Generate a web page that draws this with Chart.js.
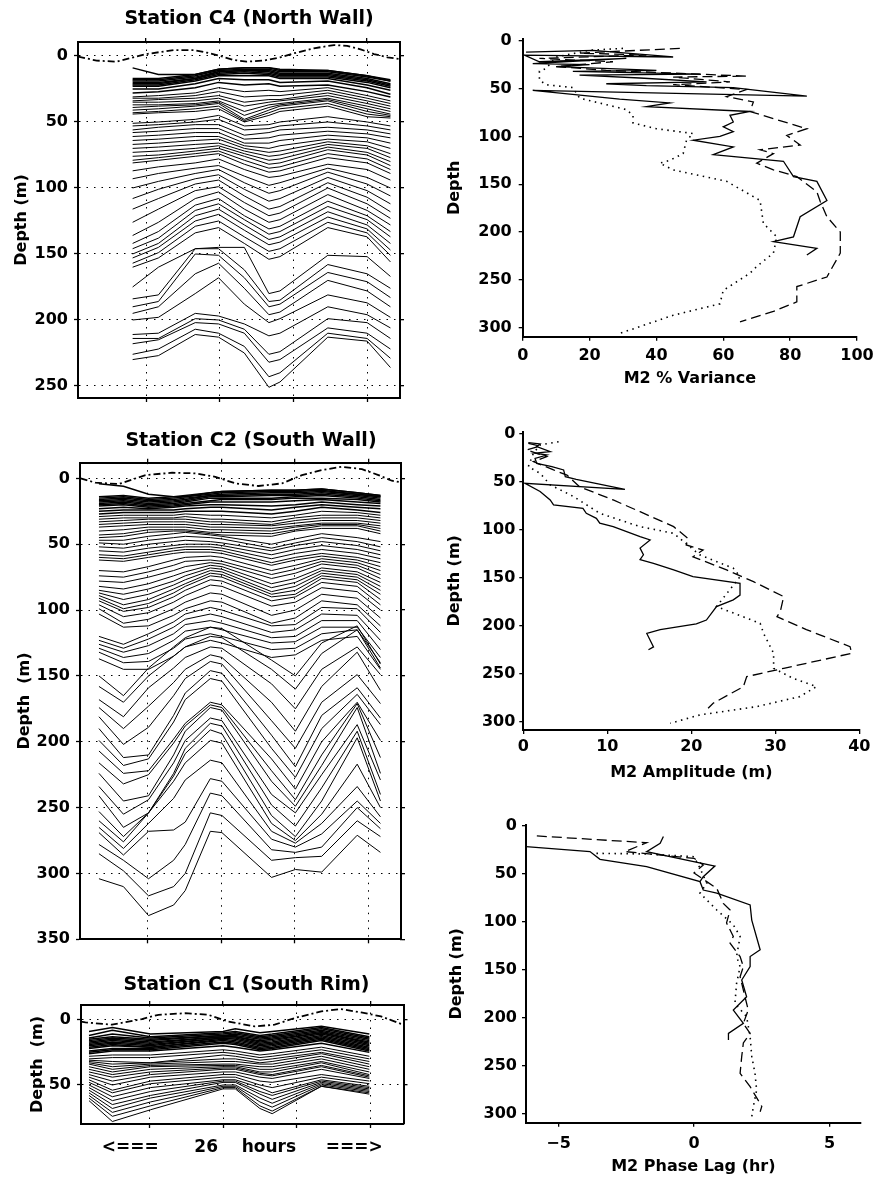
<!DOCTYPE html>
<html><head><meta charset="utf-8">
<script src="https://cdn.jsdelivr.net/npm/chart.js@4"></script>
<style>
html,body{margin:0;padding:0;background:#fff;}
#page{position:relative;width:876px;height:1177px;background:#fff;overflow:hidden;}
#page canvas{position:absolute;}
</style></head>
<body><div id="page"></div>
<script>
// ---------------- DATA ----------------
const hourTicks = [6, 12, 18, 24];
const c4DepthTicks = [0, 50, 100, 150, 200, 250];
const c2DepthTicks = [0, 50, 100, 150, 200, 250, 300, 350];
const c1DepthTicks = [0, 50];
const profileDepthTicks = [0, 50, 100, 150, 200, 250, 300];
const varianceTicks = [0, 20, 40, 60, 80, 100];
const amplitudeTicks = [0, 10, 20, 30, 40];
const phaseTicks = [-5, 0, 5];
const phaseTickText = ['\u22125', '0', '5'];

// Station C4: cast times (hours) and isopycnal depths (m)
const c4Hours = [4.9, 7.0, 10.0, 11.9, 14.0, 16.0, 16.9, 20.8, 24.0, 25.9];
const c4Surface = [
  [9, 14, 14, 10, 9, 9, 10, 11, 15, 19],
  [17, 17, 14, 10, 9, 9, 11, 11, 15, 18],
  [18, 18, 15, 11, 10, 10, 12, 12, 16, 19],
  [19, 19, 16, 12, 11, 11, 13, 13, 17, 21],
  [20, 20, 17, 12, 11, 12, 14, 14, 18, 22],
  [21, 21, 17, 13, 12, 13, 15, 15, 19, 23],
  [22, 22, 18, 14, 13, 14, 16, 16, 20, 24],
  [23, 23, 19, 15, 15, 15, 17, 17, 22, 26],
  [25, 25, 21, 17, 18, 18, 20, 19, 24, 29],
  [28, 27, 24, 20, 22, 21, 23, 22, 27, 31]
];
const c4Upper = [
  [31, 30, 28, 24, 27, 26, 27, 24, 30, 34],
  [32, 32, 30, 27, 31, 30, 30, 26, 32, 36],
  [34, 33, 32, 30, 35, 33, 33, 28, 34, 38],
  [35, 35, 34, 32, 38, 35, 34, 30, 36, 40],
  [37, 37, 36, 34, 42, 37, 36, 32, 38, 42],
  [39, 38, 37, 35, 45, 39, 37, 33, 40, 44],
  [41, 40, 38, 36, 48, 41, 38, 34, 42, 45],
  [43, 42, 40, 38, 49, 43, 40, 36, 44, 46],
  [44, 43, 42, 40, 50, 45, 42, 38, 46, 47]
];
const c4Middle = [
  [51, 50, 48, 45, 53, 52, 50, 46, 50, 53],
  [53, 52, 50, 48, 56, 55, 53, 50, 53, 56],
  [56, 54, 52, 52, 60, 58, 56, 54, 56, 59],
  [58, 57, 55, 55, 63, 62, 60, 57, 59, 62],
  [61, 60, 58, 58, 66, 66, 64, 60, 62, 66],
  [64, 63, 61, 61, 68, 70, 68, 63, 65, 70],
  [67, 66, 64, 63, 70, 73, 72, 65, 68, 74],
  [70, 69, 67, 66, 72, 76, 75, 67, 70, 77],
  [73, 72, 70, 68, 74, 79, 78, 69, 73, 80],
  [76, 75, 72, 70, 76, 82, 81, 71, 75, 83],
  [79, 77, 74, 72, 79, 85, 84, 74, 78, 86],
  [81, 79, 76, 74, 82, 88, 87, 77, 81, 89]
];
const c4Lower = [
  [87, 84, 81, 78, 86, 92, 91, 82, 86, 94],
  [93, 89, 85, 83, 91, 98, 96, 85, 92, 100],
  [100, 95, 89, 86, 96, 104, 102, 88, 97, 106],
  [108, 101, 93, 90, 101, 110, 108, 92, 102, 112],
  [116, 108, 97, 94, 106, 116, 114, 96, 107, 118],
  [126, 116, 102, 99, 111, 121, 119, 100, 112, 123],
  [136, 126, 108, 103, 116, 126, 124, 105, 117, 128],
  [142, 133, 113, 108, 121, 131, 129, 110, 121, 133],
  [146, 138, 117, 112, 124, 135, 133, 114, 124, 137],
  [150, 142, 121, 116, 128, 139, 137, 118, 128, 142],
  [153, 145, 125, 120, 132, 143, 141, 122, 131, 147],
  [157, 149, 129, 125, 137, 148, 146, 126, 134, 151],
  [160, 153, 134, 130, 142, 154, 152, 130, 137, 156]
];
const c4Deep = [
  [175, 160, 146, 145, 145, 180, 178, 151, 152, 167],
  [184, 181, 146, 146, 162, 186, 185, 158, 165, 176],
  [190, 186, 150, 151, 168, 190, 188, 164, 171, 183],
  [195, 190, 165, 157, 176, 196, 194, 170, 178, 190],
  [200, 198, 180, 168, 188, 202, 199, 181, 187, 198],
  [211, 210, 195, 197, 203, 212, 210, 190, 196, 206],
  [214, 214, 199, 200, 207, 226, 224, 199, 202, 214],
  [218, 215, 202, 203, 210, 232, 230, 206, 210, 222],
  [226, 222, 207, 210, 220, 243, 240, 210, 214, 229],
  [230, 227, 211, 213, 225, 251, 247, 213, 216, 236]
];
const c4TideHours = [0.46, 1.97, 3.6, 4.96, 6.05, 8.23, 9.86, 10.95, 12.04, 13.13, 14.2, 15.58, 16.94, 18.02, 19.66, 21.3, 22.38, 23.47, 24.56, 25.65, 26.68];
const c4TideDepth = [0.5, 3.5, 4.3, 1.0, -1.5, -4.5, -4.5, -2.5, 0, 3, 4.3, 3.5, 1, -2, -5.8, -8.3, -7.6, -5, -1.5, 1, 2.3];

// Station C2
const c2Hours = [2.0, 4.0, 6.05, 8.1, 9.05, 11.1, 12.05, 16.1, 18.05, 20.2, 23.1, 25.0];
const c2Surface = [
  [4, 6, 12, 14, 14, 11, 10, 9, 9, 8, 11, 13],
  [14, 13, 15, 14, 13, 11, 10, 9, 9, 8, 11, 13],
  [15, 14, 16, 15, 14, 12, 11, 10, 10, 9, 12, 14],
  [16, 15, 17, 16, 15, 13, 12, 11, 11, 10, 12, 14],
  [17, 16, 18, 17, 16, 13, 13, 12, 12, 11, 13, 15],
  [18, 17, 19, 18, 17, 14, 14, 13, 13, 12, 14, 16],
  [19, 18, 20, 19, 18, 15, 15, 15, 14, 13, 15, 17],
  [20, 19, 21, 20, 19, 17, 16, 16, 15, 15, 16, 18],
  [21, 20, 22, 21, 20, 18, 18, 18, 17, 16, 18, 19],
  [23, 22, 23, 22, 21, 20, 20, 21, 20, 18, 20, 21],
  [25, 24, 24, 24, 23, 22, 22, 24, 22, 20, 22, 23],
  [27, 26, 26, 26, 25, 25, 25, 27, 25, 22, 24, 26]
];
const c2Upper = [
  [29, 28, 28, 28, 27, 28, 28, 30, 28, 25, 26, 28],
  [31, 30, 30, 30, 29, 31, 31, 33, 30, 28, 28, 30],
  [33, 32, 31, 31, 31, 33, 33, 35, 32, 30, 30, 32],
  [35, 34, 33, 33, 33, 35, 35, 36, 34, 32, 32, 34],
  [37, 36, 35, 35, 35, 37, 37, 38, 36, 34, 34, 36],
  [40, 39, 37, 37, 37, 39, 39, 40, 37, 35, 35, 38],
  [43, 42, 39, 39, 39, 41, 41, 42, 39, 36, 36, 40],
  [45, 44, 41, 40, 40, 42, 43, 44, 40, 38, 38, 42]
];
const c2Middle = [
  [47, 47, 44, 42, 41, 43, 44, 50, 46, 42, 45, 48],
  [49, 50, 47, 45, 44, 45, 46, 53, 49, 45, 48, 52],
  [52, 53, 50, 48, 47, 48, 49, 55, 51, 48, 51, 55],
  [55, 56, 53, 51, 50, 50, 51, 58, 54, 51, 54, 58],
  [58, 59, 56, 53, 52, 52, 53, 61, 57, 54, 57, 61],
  [60, 61, 58, 55, 54, 54, 55, 64, 60, 57, 60, 64],
  [62, 63, 60, 57, 56, 56, 57, 66, 62, 59, 62, 67]
];
const c2Thermocline = [
  [70, 71, 67, 62, 60, 59, 60, 70, 66, 61, 64, 70],
  [74, 75, 71, 66, 63, 62, 63, 73, 69, 63, 66, 73],
  [78, 79, 75, 70, 67, 64, 65, 76, 72, 65, 68, 76],
  [82, 84, 80, 74, 71, 66, 67, 80, 76, 68, 71, 79],
  [85, 88, 84, 78, 74, 68, 69, 83, 79, 70, 73, 82],
  [87, 92, 88, 81, 77, 70, 71, 86, 82, 72, 75, 85],
  [89, 96, 92, 84, 80, 72, 73, 88, 85, 74, 77, 88],
  [91, 99, 95, 87, 82, 74, 75, 90, 88, 76, 79, 92],
  [93, 101, 98, 90, 85, 77, 78, 93, 90, 79, 82, 96],
  [96, 105, 102, 94, 89, 81, 82, 97, 94, 83, 86, 100],
  [99, 110, 107, 99, 94, 87, 88, 104, 100, 88, 91, 106],
  [103, 113, 112, 104, 99, 93, 94, 110, 106, 93, 96, 112]
];
const c2Lower = [
  [120, 126, 118, 109, 103, 98, 100, 112, 111, 98, 99, 117],
  [123, 129, 122, 113, 107, 103, 105, 117, 115, 103, 104, 123],
  [126, 132, 127, 118, 111, 108, 110, 121, 120, 108, 108, 130],
  [129, 136, 133, 123, 116, 113, 115, 125, 124, 113, 113, 136],
  [132, 140, 139, 129, 122, 118, 120, 130, 129, 118, 115, 140],
  [137, 145, 145, 135, 128, 123, 125, 136, 134, 123, 120, 145]
];
const c2Deep = [
  [150, 165, 144, 128, 121, 113, 114, 138, 150, 125, 112, 141],
  [158, 170, 150, 135, 128, 120, 121, 145, 160, 133, 115, 144],
  [168, 181, 159, 144, 136, 128, 129, 156, 175, 145, 128, 149],
  [174, 190, 173, 155, 145, 134, 136, 170, 192, 158, 132, 161],
  [181, 202, 189, 165, 152, 139, 141, 184, 205, 170, 149, 171],
  [190, 212, 210, 180, 163, 146, 148, 195, 219, 180, 159, 182],
  [199, 218, 213, 185, 168, 152, 154, 205, 227, 190, 164, 187],
  [207, 224, 222, 198, 186, 170, 172, 213, 236, 200, 170, 199],
  [216, 232, 225, 201, 188, 172, 174, 222, 244, 210, 171, 212],
  [224, 245, 241, 210, 192, 174, 176, 230, 249, 218, 174, 224],
  [234, 255, 244, 216, 199, 182, 184, 240, 254, 225, 187, 229],
  [241, 265, 254, 224, 205, 186, 188, 248, 264, 235, 192, 240],
  [253, 272, 254, 226, 209, 191, 194, 256, 272, 245, 197, 245],
  [260, 276, 254, 230, 216, 199, 201, 262, 275, 255, 217, 250],
  [265, 281, 262, 243, 229, 214, 216, 268, 277, 262, 234, 257],
  [269, 286, 268, 267, 261, 228, 230, 274, 280, 270, 245, 262],
  [278, 290, 304, 290, 278, 239, 241, 282, 284, 280, 250, 266],
  [285, 298, 317, 310, 300, 254, 256, 290, 288, 287, 260, 272],
  [304, 310, 332, 324, 313, 268, 269, 303, 297, 299, 271, 284]
];
const c2TideHours = [0.5, 1.71, 3.62, 5.8, 7.98, 9.88, 11.51, 13.14, 15.04, 16.96, 18.59, 20.22, 21.85, 23.49, 24.84, 25.93, 26.65];
const c2TideDepth = [0, 3.3, 4.3, -2.5, -4.3, -3.8, -1.2, 3.8, 5.8, 3.8, -2.5, -6.3, -8.8, -7, -2.5, 1.8, 3];

// Station C1
const c1Hours = [1.1, 3.0, 6.1, 12.0, 13.0, 15.0, 16.0, 20.0, 23.9];
const c1Surface = [
  [9, 6, 11, 9, 7, 10, 9, 5, 11],
  [12, 8, 13, 10, 9, 12, 11, 6, 13],
  [14, 11, 14, 11, 10, 13, 12, 7, 14],
  [15, 13, 15, 12, 11, 14, 13, 8, 15],
  [16, 14, 16, 12, 12, 15, 14, 9, 16],
  [17, 15, 17, 13, 13, 16, 15, 10, 17],
  [18, 16, 18, 13, 13, 17, 16, 10, 18],
  [19, 17, 19, 14, 14, 18, 17, 11, 19],
  [20, 18, 20, 14, 15, 19, 18, 12, 20],
  [21, 19, 21, 15, 16, 20, 19, 13, 21],
  [22, 20, 21, 16, 17, 21, 20, 14, 22],
  [24, 22, 22, 17, 18, 22, 21, 15, 23],
  [25, 23, 23, 18, 19, 23, 22, 16, 24],
  [26, 24, 24, 20, 21, 24, 23, 18, 25]
];
const c1Upper = [
  [28, 27, 27, 23, 24, 27, 26, 21, 28],
  [30, 29, 29, 25, 26, 29, 28, 23, 30],
  [31, 32, 33, 27, 28, 31, 30, 25, 32],
  [32, 34, 33, 30, 30, 33, 32, 26, 34],
  [33, 36, 34, 32, 32, 34, 34, 28, 36],
  [34, 38, 35, 34, 34, 36, 36, 30, 38],
  [36, 40, 36, 35, 35, 38, 38, 32, 40],
  [38, 42, 38, 36, 36, 40, 40, 33, 42]
];
const c1Middle = [
  [40, 44, 40, 37, 37, 41, 42, 35, 43],
  [42, 47, 42, 38, 38, 42, 43, 36, 44],
  [44, 50, 44, 40, 40, 44, 45, 38, 45],
  [46, 54, 47, 42, 42, 47, 48, 42, 47],
  [48, 56, 49, 44, 44, 50, 52, 44, 49],
  [50, 59, 52, 46, 46, 52, 56, 46, 51]
];
const c1Deep = [
  [52, 62, 55, 47, 47, 55, 58, 47, 52],
  [54, 65, 58, 48, 48, 57, 61, 48, 53],
  [56, 68, 60, 50, 50, 60, 64, 49, 54],
  [58, 71, 63, 51, 51, 63, 67, 50, 55],
  [60, 74, 66, 52, 52, 66, 70, 51, 56],
  [62, 78, 69, 53, 53, 68, 72, 51, 57]
];
const c1TideHours = [0.45, 0.81, 2.97, 5.4, 6.75, 8.91, 10.8, 12.42, 14.58, 16.2, 17.82, 19.99, 21.6, 23.23, 24.85, 26.47, 26.68];
const c1TideDepth = [1.5, 2, 3.8, -0.5, -3.8, -5, -3.8, 1.3, 5.1, 3.8, -1.3, -6.4, -8.2, -5.6, -2.6, 3.1, 3.5];

// Profiles: [value, depth]
const varianceSolid = [[1,12],[21,10],[45,17],[0.5,15],[5,22],[31,18.5],[3,24],[20,25],[10,27],[40,31],[15,32],[53,35],[17,36],[35,39],[55,43],[25,45],[37,47],[63,49],[85,58],[3,52],[29,61],[44,65],[37,69],[68,74],[62,78],[63,85],[60,90],[63,95],[59,100],[51,104],[63,111],[57,119],[78,126],[81,142],[88,147],[91,167],[83,184],[81,205],[75,210],[88,217],[85,224]];
const varianceDashed = [[47,8],[35,10],[17,13],[37,15],[5,18.5],[27,22],[10,27],[25,31],[67,37],[45,38],[62,43],[45,46],[67,51],[61,58.5],[69,64],[68,74],[85,92],[79,99],[83,109],[71,114],[75,118],[70,128],[75,135],[82,142],[88,158],[89,168],[91,184],[95,200],[95,222],[91,247],[82,257],[82,273],[75,283],[65,294]];
const varianceDotted = [[30,8],[20,10],[10,17],[7,29],[5,32],[5,41],[7,46],[15,49],[17,60],[31,72],[33,78],[33,86],[40,92],[51,97],[49,104],[48,118],[44,125],[41,128],[45,135],[61,147],[69,163],[71,167],[72,191],[76,205],[75,222],[70,236],[68,243],[60,261],[59,275],[45,287],[29,306]];

const amplitudeSolid = [[0.6,9],[2,10.4],[1.6,13.2],[3.2,18.4],[1.4,20],[2.8,21.9],[1.4,25.4],[1.6,30.6],[3.4,34],[4.8,37.5],[5,44.5],[6.3,47.3],[12.1,57.7],[0.2,51.4],[2,60],[3.2,68.8],[3.6,74],[7.1,77.5],[7.5,82.7],[8.7,88],[9.1,93],[10.7,96.6],[13.9,107],[15.1,110.5],[13.9,119],[14.3,126],[13.9,131],[15.5,135],[17.9,141.8],[20.2,148.8],[25.8,155.7],[25.8,168],[25,173],[23,180],[21.8,194],[20.6,198],[16.3,204],[14.7,208],[15.5,222],[14.9,225]];
const amplitudeDashed = [[0.6,9.7],[2,12.5],[0.4,16.7],[2.8,23.6],[1.2,28.8],[3.6,37.5],[5.2,42.8],[6.7,55],[10.7,68.8],[13.9,81],[17.9,96.6],[19.6,108.8],[19.4,115.7],[21.4,121],[20.2,128],[24.2,141.8],[27.4,154],[31,169.6],[30.6,185],[30.2,190.5],[33.7,204],[38.9,221.8],[39.1,228.7],[31,244.4],[26.6,253],[26.2,263.5],[22.6,280.8],[22,286]];
const amplitudeDotted = [[4.2,8],[2,11.5],[1.2,20],[0.6,34],[2,41],[3.2,53],[6,65.3],[9.1,82.7],[13.9,96.6],[17.9,103.6],[21,126],[25,140],[25.8,148.8],[23,180],[28.2,197.4],[28.6,207.9],[29.8,228.7],[29.8,244.4],[32.1,254.8],[34.9,263.5],[32.9,273.9],[27.8,284.3],[21,293],[17.5,301.7]];

const phaseSolidUpper = [[-1.13,11],[-1.25,18],[-1.75,26.7],[0.77,41.7],[0.34,52.8],[0.22,58]];
const phaseSolidLower = [[-6.2,21.5],[-3.84,26.7],[-3.47,34.7],[-1.75,42.4],[0.22,58],[0.34,66.7],[0.84,70],[2.07,82.3],[2.13,98],[2.44,129],[2.07,136],[2.07,146.5],[1.76,160.4],[1.94,177.8],[1.45,191.7],[1.82,205.6],[1.27,216],[1.27,223]];
const phaseDashed = [[-5.8,10.4],[-1.75,17.4],[-2.55,26.7],[0,33.7],[0.34,40.6],[0,49],[0.84,65],[1.08,80.6],[1.33,87.5],[1.2,101],[1.45,115],[1.33,122],[1.7,136],[1.82,146.5],[1.7,157],[1.88,177.8],[2.0,191.7],[1.82,205.6],[2.07,216],[1.82,226],[1.76,240],[1.7,257.6],[2.07,271.5],[2.5,292],[2.44,297.6]];
const phaseDotted = [[-3.6,28.5],[-1.75,29.2],[0,32],[0.22,44],[0.47,59.7],[0.22,70],[0.84,87.5],[1.45,103],[1.7,115],[1.57,136],[1.7,146.5],[1.57,164],[1.51,184.7],[1.94,198.6],[2.07,219.4],[2.13,240],[2.25,257.6],[2.31,275],[2.19,292],[2.13,302.8]];

// ---------------- RENDER ----------------
const SANS = "'DejaVu Sans', 'Liberation Sans', Arial, sans-serif";
Chart.defaults.font.family = SANS;
Chart.defaults.font.weight = 'bold';
Chart.defaults.font.size = 16;
Chart.defaults.color = '#000';

const HOUR_MIN = 0.45, HOUR_MAX = 26.68;
const TITLE_FONT = {family: SANS, size: 19, weight: 'bold'};
const TITLE_H = 8 + 19 * 1.2 + 4;
const LABEL_FONT = {family: SANS, size: 16, weight: 'bold'};
const page = document.getElementById('page');

function panelCanvas(box) {
  const c = document.createElement('canvas');
  c.width = box.w; c.height = box.h;
  c.style.left = box.l + 'px'; c.style.top = box.t + 'px';
  c.style.width = box.w + 'px'; c.style.height = box.h + 'px';
  page.appendChild(c);
  return c;
}
function zeroPad(s) { s.paddingTop = 0; s.paddingBottom = 0; s.paddingLeft = 0; s.paddingRight = 0; }
function lockWidth(w) { return s => { s.width = w; zeroPad(s); }; }
function lockHeight(h) { return s => { s.height = h; zeroPad(s); }; }
function useTicks(vals) { return s => { s.ticks = vals.map(v => ({value: v})); }; }
function pts(pairs) { return pairs.map(p => ({x: p[0], y: p[1]})); }

function leftPanel(p) {
  const box = p.box, area = p.area;
  const datasets = [];
  p.groups.forEach((group, gi) => group.forEach(line => datasets.push({
    data: line.map((d, i) => ({x: p.hours[i], y: d})),
    showLine: true, borderColor: '#000', borderWidth: gi === 0 ? 1.5 : 1, pointRadius: 0,
    xAxisID: 'x', yAxisID: 'y'
  })));
  datasets.push({
    data: p.tideHours.map((h, i) => ({x: h, y: p.tideDepth[i]})),
    showLine: true, borderColor: '#000', borderWidth: 1.8, borderDash: [7, 3, 2, 3],
    pointRadius: 0, xAxisID: 'x', yAxisID: 'y'
  });
  const dottedGrid = {drawOnChartArea: true, drawTicks: true, tickLength: 4, color: '#000', lineWidth: 1, tickWidth: 1.3};
  const tickOnly = {drawOnChartArea: false, drawTicks: true, tickLength: 4, color: '#000', lineWidth: 1.3};
  const frame = {display: true, color: '#000', width: 2};
  new Chart(panelCanvas(box), {
    type: 'scatter',
    data: {datasets},
    options: {
      responsive: false, animation: false, devicePixelRatio: 1, events: [],
      layout: {padding: 0},
      plugins: {
        legend: {display: false}, tooltip: {enabled: false},
        title: {display: true, text: p.title, color: '#000', font: TITLE_FONT, padding: {top: 8, bottom: 4}}
      },
      scales: {
        x: {
          type: 'linear', axis: 'x', position: 'bottom', min: HOUR_MIN, max: HOUR_MAX,
          afterBuildTicks: useTicks(hourTicks), afterFit: lockHeight(box.t + box.h - area.b),
          ticks: {display: false}, grid: dottedGrid,
          border: Object.assign({dash: [1.5, 6]}, frame),
          title: p.xTitle ? {display: true, text: p.xTitle, color: '#000',
            font: {family: SANS, size: 17, weight: 'bold'}, padding: {top: 0, bottom: p.xTitlePad}} : {display: false}
        },
        x2: {
          type: 'linear', axis: 'x', position: 'top', min: HOUR_MIN, max: HOUR_MAX,
          afterBuildTicks: useTicks(hourTicks), afterFit: lockHeight(area.t - box.t - TITLE_H),
          ticks: {display: false}, grid: tickOnly, border: frame
        },
        y: {
          type: 'linear', axis: 'y', position: 'left', reverse: true, min: p.yMin, max: p.yMax,
          afterBuildTicks: useTicks(p.yTicks), afterFit: lockWidth(area.l - box.l),
          ticks: {padding: 6, color: '#000', font: LABEL_FONT}, grid: dottedGrid,
          border: Object.assign({dash: [1.5, 6]}, frame),
          title: {display: true, text: p.yTitle, color: '#000', font: LABEL_FONT, padding: {top: p.yTitlePad, bottom: 0}}
        },
        y2: {
          type: 'linear', axis: 'y', position: 'right', reverse: true, min: p.yMin, max: p.yMax,
          afterBuildTicks: useTicks(p.yTicks), afterFit: lockWidth(box.l + box.w - area.r),
          ticks: {display: false}, grid: tickOnly, border: frame
        }
      }
    }
  });
}

function rightPanel(p) {
  const box = p.box, area = p.area;
  const styles = {
    solid: {borderDash: [], borderWidth: 1.3},
    dashed: {borderDash: [10, 5], borderWidth: 1.3},
    dotted: {borderDash: [1.5, 4.5], borderWidth: 1.6}
  };
  const datasets = p.series.map(s => Object.assign({
    data: pts(s.data), showLine: true, borderColor: '#000', pointRadius: 0,
    xAxisID: 'x', yAxisID: 'y'
  }, styles[s.style]));
  const tickOnly = {drawOnChartArea: false, drawTicks: true, tickLength: 4, color: '#000', lineWidth: 1.3};
  new Chart(panelCanvas(box), {
    type: 'scatter',
    data: {datasets},
    options: {
      responsive: false, animation: false, devicePixelRatio: 1, events: [],
      layout: {padding: {left: 0, top: area.t - box.t, right: box.l + box.w - area.r, bottom: 0}},
      plugins: {legend: {display: false}, tooltip: {enabled: false}},
      scales: {
        x: {
          type: 'linear', position: 'bottom', min: p.xMin, max: p.xMax,
          afterBuildTicks: useTicks(p.xTicks), afterFit: lockHeight(box.t + box.h - area.b),
          ticks: {padding: p.xTickPad, color: '#000', font: LABEL_FONT, maxRotation: 0,
            callback: p.xTickText ? ((v, i) => p.xTickText[i]) : (v => String(v))},
          grid: tickOnly, border: {display: true, color: '#000', width: 2},
          title: {display: true, text: p.xTitle, color: '#000', font: LABEL_FONT, padding: {top: 0, bottom: p.xTitlePad}}
        },
        y: {
          type: 'linear', position: 'left', reverse: true, min: p.yMin, max: p.yMax,
          afterBuildTicks: useTicks(profileDepthTicks), afterFit: lockWidth(area.l - box.l),
          ticks: {padding: p.yTickPad, color: '#000', font: LABEL_FONT},
          grid: tickOnly, border: {display: true, color: '#000', width: 2},
          title: {display: true, text: p.yTitle, color: '#000', font: LABEL_FONT, padding: {top: p.yTitlePad, bottom: 0}}
        }
      }
    }
  });
}

leftPanel({
  box: {l: 0, t: 0, w: 498, h: 410}, area: {l: 78, t: 42, r: 400, b: 398},
  title: 'Station C4 (North Wall)', yTitle: 'Depth (m)', yTitlePad: 12,
  yMin: -10.6, yMax: 259.1, yTicks: c4DepthTicks,
  hours: c4Hours, groups: [c4Surface, c4Upper, c4Middle, c4Lower, c4Deep],
  tideHours: c4TideHours, tideDepth: c4TideDepth
});
leftPanel({
  box: {l: 0, t: 422, w: 502, h: 523}, area: {l: 80, t: 462.7, r: 401, b: 939.3},
  title: 'Station C2 (South Wall)', yTitle: 'Depth  (m)', yTitlePad: 15.4,
  yMin: -11.9, yMax: 350, yTicks: c2DepthTicks,
  hours: c2Hours, groups: [c2Surface, c2Upper, c2Middle, c2Thermocline, c2Lower, c2Deep],
  tideHours: c2TideHours, tideDepth: c2TideDepth
});
leftPanel({
  box: {l: 0, t: 966, w: 493, h: 204}, area: {l: 81, t: 1005, r: 403.5, b: 1124},
  title: 'Station C1 (South Rim)', yTitle: 'Depth  (m)', yTitlePad: 27.9,
  yMin: -11.3, yMax: 79.9, yTicks: c1DepthTicks,
  xTitle: '<===      26    hours     ===>', xTitlePad: 11.8,
  hours: c1Hours, groups: [c1Surface, c1Upper, c1Middle, c1Deep],
  tideHours: c1TideHours, tideDepth: c1TideDepth
});

rightPanel({
  box: {l: 440, t: 0, w: 436, h: 400}, area: {l: 522.7, t: 38.8, r: 857, b: 336.8},
  xMin: 0, xMax: 100, xTicks: varianceTicks, xTickPad: 5, xTitle: 'M2 % Variance', xTitlePad: 11.4,
  yMin: -2, yMax: 309.5, yTickPad: 7, yTitle: 'Depth', yTitlePad: 5.4,
  series: [{data: varianceDotted, style: 'dotted'}, {data: varianceDashed, style: 'dashed'}, {data: varianceSolid, style: 'solid'}]
});
rightPanel({
  box: {l: 440, t: 410, w: 436, h: 380}, area: {l: 523.3, t: 431.7, r: 859.3, b: 730},
  xMin: 0, xMax: 40, xTicks: amplitudeTicks, xTickPad: 3, xTitle: 'M2 Amplitude (m)', xTitlePad: 7.9,
  yMin: -2.4, yMax: 308.7, yTickPad: 4, yTitle: 'Depth (m)', yTitlePad: 5.4,
  series: [{data: amplitudeDotted, style: 'dotted'}, {data: amplitudeDashed, style: 'dashed'}, {data: amplitudeSolid, style: 'solid'}]
});
rightPanel({
  box: {l: 440, t: 800, w: 436, h: 377}, area: {l: 526, t: 825, r: 860.7, b: 1122.7},
  xMin: -6.2, xMax: 6.15, xTicks: phaseTicks, xTickText: phaseTickText, xTickPad: 8, xTitle: 'M2 Phase Lag (hr)', xTitlePad: 0.7,
  yMin: -1, yMax: 309, yTickPad: 5, yTitle: 'Depth (m)', yTitlePad: 7.1,
  series: [{data: phaseDotted, style: 'dotted'}, {data: phaseDashed, style: 'dashed'},
           {data: phaseSolidUpper, style: 'solid'}, {data: phaseSolidLower, style: 'solid'}]
});
</script>
</body></html>
